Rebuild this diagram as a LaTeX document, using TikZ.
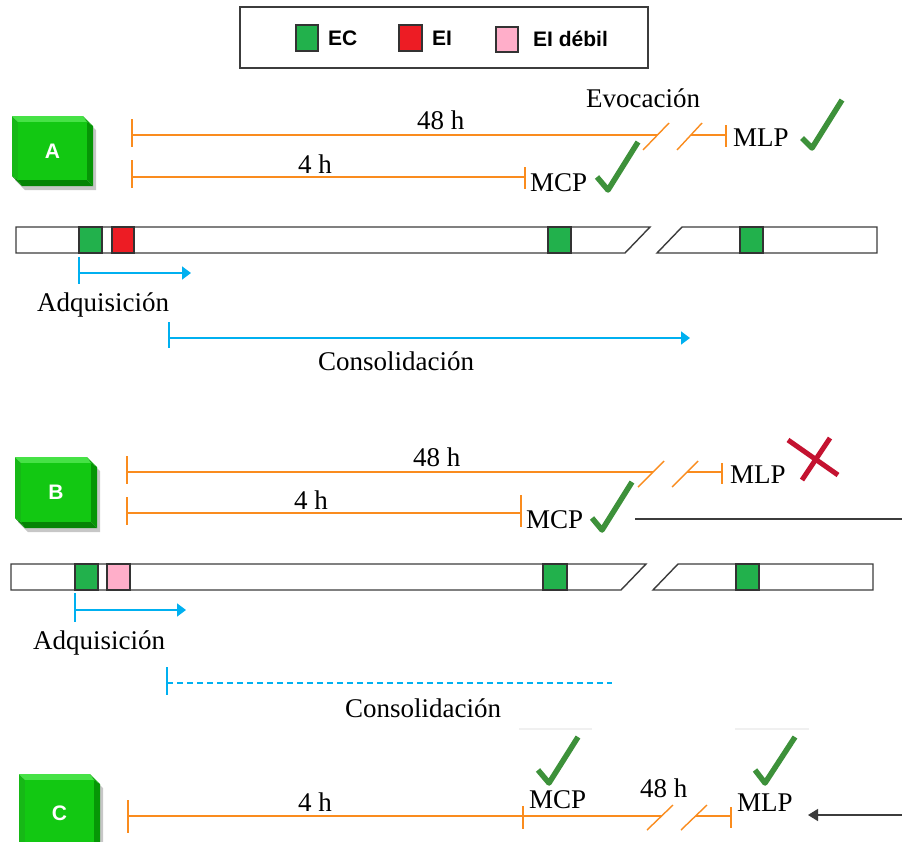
\documentclass[tikz,border=0pt]{standalone}
\usepackage{fontspec}
\setmainfont{Liberation Serif}
\newfontfamily\lsans{Liberation Sans}
\usetikzlibrary{arrows.meta}
\definecolor{orng}{RGB}{250,140,30}
\definecolor{cyn}{RGB}{0,176,240}
\definecolor{ecg}{RGB}{34,177,76}
\definecolor{eir}{RGB}{237,28,36}
\definecolor{pnk}{RGB}{255,174,201}
\definecolor{chkg}{RGB}{61,145,58}
\definecolor{xred}{RGB}{196,18,48}
\definecolor{gface}{RGB}{18,200,18}
\definecolor{gtop}{RGB}{70,226,70}
\definecolor{gleft}{RGB}{22,184,22}
\definecolor{gright}{RGB}{6,150,6}
\definecolor{gbot}{RGB}{5,132,5}
\definecolor{gcornA}{RGB}{14,168,14}
\definecolor{gcornB}{RGB}{5,140,5}
\definecolor{barline}{RGB}{60,60,60}
\tikzset{
  lbl/.style={font=\fontsize{27}{30}\selectfont, inner sep=0pt, anchor=base west},
  leglbl/.style={font=\lsans\bfseries\fontsize{21}{24}\selectfont, inner sep=0pt, anchor=base west},
  boxlbl/.style={font=\lsans\bfseries\fontsize{21}{24}\selectfont, text=white, inner sep=0pt},
  tl/.style={draw=orng, line width=1.4pt},
  bl/.style={draw=cyn, line width=1.6pt},
  bar/.style={draw=barline, line width=1.4pt, fill=white},
  sq/.style={draw=black!80, line width=1.2pt},
  chk/.style={draw=chkg, line width=5.5pt, line join=round, line cap=butt},
  xmk/.style={draw=xred, line width=5pt},
}
\newcommand{\gbox}[6]{%
\fill[black,opacity=0.22] ({#1+3},{#2+4}) -- ({#3-10+3},{#2+4}) -- ({#3+3},{#2+14}) -- ({#3+3},{#4+4}) -- ({#1+13},{#4+4}) -- ({#1+3},{#4-6}) -- cycle;
\fill[gtop] (#1,#2) -- ({#3-10},#2) -- ({#3-6},{#2+6}) -- ({#1+6},{#2+6}) -- cycle;
\fill[gcornA] ({#3-10},#2) -- (#3,{#2+10}) -- ({#3-6},{#2+6}) -- cycle;
\fill[gright] (#3,{#2+10}) -- (#3,#4) -- ({#3-6},{#4-6}) -- ({#3-6},{#2+6}) -- cycle;
\fill[gbot] (#3,#4) -- ({#1+10},#4) -- ({#1+6},{#4-6}) -- ({#3-6},{#4-6}) -- cycle;
\fill[gcornB] ({#1+10},#4) -- (#1,{#4-10}) -- ({#1+6},{#4-6}) -- cycle;
\fill[gleft] (#1,{#4-10}) -- (#1,#2) -- ({#1+6},{#2+6}) -- ({#1+6},{#4-6}) -- cycle;
\fill[gface] ({#1+6},{#2+6}) rectangle ({#3-6},{#4-6});
\node[boxlbl] (#6) at ({(#1+#3)/2},{(#2+#4)/2}) {#5};
}
\begin{document}
\begin{tikzpicture}[x=1pt,y=-1pt]
\useasboundingbox[fill=white] (0,0) rectangle (902,841);

% ---------- legend ----------
\draw[draw=barline, line width=1.2pt] (240,7) rectangle (648,68);
\draw[sq, fill=ecg] (296,25) rectangle (318,51);
\node[leglbl] (legEC) at (328,45) {EC};
\draw[sq, fill=eir] (399,25) rectangle (422,51);
\node[leglbl] (legEI) at (432,45) {EI};
\draw[sq, fill=pnk] (496,27) rectangle (518,52);
\node[leglbl] (legEId) at (533,46) {EI débil};

% ================= A =================
\gbox{12}{116}{93}{186}{A}{boxA}
% 48 h
\draw[tl] (132,119) -- (132,147);
\draw[tl] (132,135) -- (657,135);
\draw[tl] (643,150) -- (669,123);
\draw[tl] (677,150) -- (702,123);
\draw[tl] (691,135) -- (726,135);
\draw[tl] (726,125) -- (726,147);
\node[lbl] (A48) at (417,129) {48 h};
\node[lbl] (Aevo) at (586,107) {Evocación};
\node[lbl] (AMLP) at (733,146) {MLP};
\draw[chk] (802,138) -- (812,148) -- (842,100);
% 4 h
\draw[tl] (132,160) -- (132,188);
\draw[tl] (132,177) -- (525,177);
\draw[tl] (525,167) -- (525,189);
\node[lbl] (A4) at (298,173) {4 h};
\node[lbl] (AMCP) at (530,191) {MCP};
\draw[chk] (597,177) -- (608,190) -- (638,142);
% bars
\draw[bar] (16,227) -- (650,227) -- (625,253) -- (16,253) -- cycle;
\draw[bar] (682,227) -- (877,227) -- (877,253) -- (657,253) -- cycle;
\draw[sq, fill=ecg] (79,227) rectangle (102,253);
\draw[sq, fill=eir] (112,227) rectangle (134,253);
\draw[sq, fill=ecg] (548,227) rectangle (571,253);
\draw[sq, fill=ecg] (740,227) rectangle (763,253);
% blue arrows
\draw[bl] (79,257) -- (79,284);
\draw[bl, -{Triangle[length=9pt,width=13pt]}] (79,273) -- (191,273);
\node[lbl] (Aadq) at (37,311) {Adquisición};
\draw[bl] (169,322) -- (169,348);
\draw[bl, -{Triangle[length=9pt,width=13pt]}] (169,338) -- (690,338);
\node[lbl] (Acon) at (318,370) {Consolidación};

% ================= B =================
\gbox{15}{457}{97}{528}{B}{boxB}
\draw[tl] (127,456) -- (127,484);
\draw[tl] (127,472) -- (653,472);
\draw[tl] (638,487) -- (664,461);
\draw[tl] (672,487) -- (698,461);
\draw[tl] (687,472) -- (722,472);
\draw[tl] (722,463) -- (722,484);
\node[lbl] (B48) at (413,466) {48 h};
\node[lbl] (BMLP) at (730,483) {MLP};
\draw[xmk] (788,440) -- (838,475);
\draw[xmk] (830,438) -- (802,480);
\draw[tl] (127,497) -- (127,525);
\draw[tl] (127,513) -- (521,513);
\draw[tl] (521,495) -- (521,527);
\node[lbl] (B4) at (294,509) {4 h};
\node[lbl] (BMCP) at (526,528) {MCP};
\draw[chk] (592,518) -- (602,530) -- (632,482);
\draw[draw=barline, line width=1.3pt] (635,519) -- (902,519);
% bars
\draw[bar] (11,564) -- (646,564) -- (621,590) -- (11,590) -- cycle;
\draw[bar] (678,564) -- (873,564) -- (873,590) -- (653,590) -- cycle;
\draw[sq, fill=ecg] (75,564) rectangle (98,590);
\draw[sq, fill=pnk] (107,564) rectangle (130,590);
\draw[sq, fill=ecg] (543,564) rectangle (567,590);
\draw[sq, fill=ecg] (736,564) rectangle (759,590);
% blue
\draw[bl] (75,593) -- (75,622);
\draw[bl, -{Triangle[length=9pt,width=13pt]}] (75,610) -- (186,610);
\node[lbl] (Badq) at (33,649) {Adquisición};
\draw[bl] (167,667) -- (167,695);
\draw[bl, dash pattern=on 6pt off 4pt] (167,683) -- (612,683);
\node[lbl] (Bcon) at (345,717) {Consolidación};

% ================= C =================
\gbox{19}{774}{100}{852}{C}{boxC}
\draw[tl] (128,800) -- (128,833);
\draw[tl] (128,816) -- (662,816);
\draw[tl] (523,806) -- (523,829);
\draw[tl] (647,830) -- (673,805);
\draw[tl] (681,830) -- (707,805);
\draw[tl] (696,816) -- (731,816);
\draw[tl] (731,807) -- (731,828);
\node[lbl] (C4) at (298,811) {4 h};
\node[lbl] (CMCP) at (529,808) {MCP};
\node[lbl] (C48) at (640,797) {48 h};
\node[lbl] (CMLP) at (737,811) {MLP};
\draw[black!6, line width=1.5pt] (519,729) -- (592,729);
\draw[black!6, line width=1.5pt] (735,729) -- (809,729);
\draw[chk] (538,770) -- (549,783) -- (578,737);
\draw[chk] (755,770) -- (765,783) -- (795,737);
\coordinate (Cend) at (902,815);
\coordinate (Ctip) at (808,815);
\draw[draw=barline, line width=1.4pt, -{Triangle[length=10pt,width=12pt]}] (Cend) -- (Ctip);
\end{tikzpicture}
\end{document}
